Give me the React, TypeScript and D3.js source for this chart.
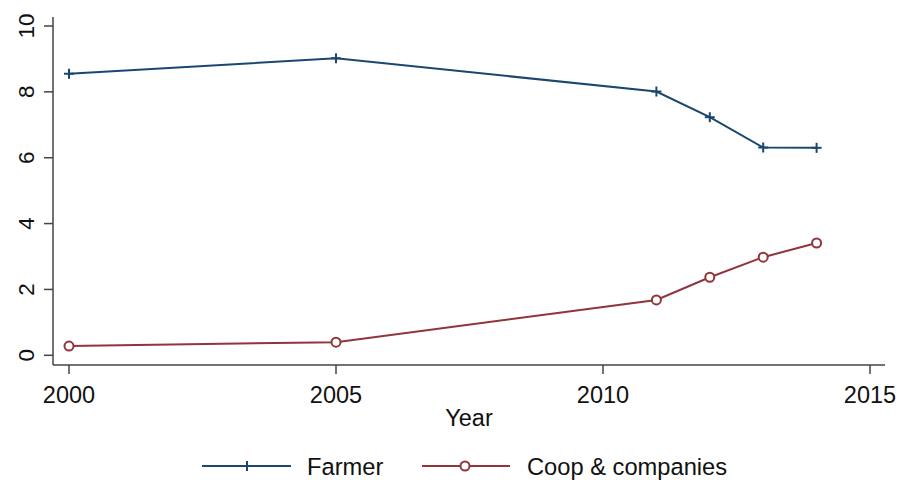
import React from 'react';
import * as d3 from 'd3';

const years = [2000, 2005, 2011, 2012, 2013, 2014];
const farmer = [8.55, 9.02, 8.01, 7.23, 6.31, 6.30];
const coop = [0.28, 0.40, 1.68, 2.37, 2.98, 3.41];
const xTicks = [2000, 2005, 2010, 2015];
const yTicks = [0, 2, 4, 6, 8, 10];

const W = 899;
const H = 480;
const FONT = 'Liberation Sans, Arial, Helvetica, sans-serif';
const BLUE = '#1a476f';
const RED = '#90353b';
const AXIS = '#444';

const App: React.FC = () => {
  const x = d3.scaleLinear().domain([2000, 2015]).range([69, 870]);
  const y = d3.scaleLinear().domain([0, 10]).range([355.3, 26]);

  const line = d3
    .line<[number, number]>()
    .x((d) => x(d[0]))
    .y((d) => y(d[1]));

  const farmerPts = years.map((yr, i) => [yr, farmer[i]] as [number, number]);
  const coopPts = years.map((yr, i) => [yr, coop[i]] as [number, number]);

  const axisLeft = 53;
  const axisBottom = 365;
  const axisRight = 885;
  const axisTop = 17;

  const plus = (cx: number, cy: number, key: string) => (
    <g key={key} stroke={BLUE} strokeWidth={2}>
      <line x1={cx - 5} x2={cx + 5} y1={cy} y2={cy} />
      <line x1={cx} x2={cx} y1={cy - 5} y2={cy + 5} />
    </g>
  );

  const circle = (cx: number, cy: number, key: string) => (
    <circle key={key} cx={cx} cy={cy} r={4.5} fill="white" stroke={RED} strokeWidth={2} />
  );

  return (
    <svg
      width={W}
      height={H}
      style={{ position: 'absolute', left: 0, top: 0, background: 'white' }}
      fontFamily={FONT}
    >
      {/* axes */}
      <line x1={axisLeft} x2={axisLeft} y1={axisTop} y2={axisBottom} stroke={AXIS} strokeWidth={1.5} />
      <line x1={axisLeft} x2={axisRight} y1={axisBottom} y2={axisBottom} stroke={AXIS} strokeWidth={1.5} />

      {yTicks.map((t) => (
        <g key={`y${t}`}>
          <line x1={axisLeft - 9} x2={axisLeft} y1={y(t)} y2={y(t)} stroke={AXIS} strokeWidth={1.5} />
          <text
            transform={`translate(33.5,${y(t)}) rotate(-90)`}
            textAnchor="middle"
            fontSize={22.5}
            fill="#111"
          >
            {t}
          </text>
        </g>
      ))}

      {xTicks.map((t) => (
        <g key={`x${t}`}>
          <line x1={x(t)} x2={x(t)} y1={axisBottom} y2={axisBottom + 9} stroke={AXIS} strokeWidth={1.5} />
          <text x={x(t)} y={403} textAnchor="middle" fontSize={23.5} fill="#111">
            {t}
          </text>
        </g>
      ))}

      <text x={469} y={426} textAnchor="middle" fontSize={23.5} fill="#111">
        Year
      </text>

      {/* series */}
      <path d={line(farmerPts) || ''} fill="none" stroke={BLUE} strokeWidth={2} />
      <path d={line(coopPts) || ''} fill="none" stroke={RED} strokeWidth={2} />
      {farmerPts.map((p, i) => plus(x(p[0]), y(p[1]), `f${i}`))}
      {coopPts.map((p, i) => circle(x(p[0]), y(p[1]), `c${i}`))}

      {/* legend */}
      <line x1={202} x2={291} y1={466} y2={466} stroke={BLUE} strokeWidth={2} />
      {plus(247, 466, 'lf')}
      <text x={307} y={475} fontSize={23.7} fill="#111">Farmer</text>
      <line x1={422} x2={510} y1={466} y2={466} stroke={RED} strokeWidth={2} />
      {circle(465, 466, 'lc')}
      <text x={527} y={475} fontSize={23.7} fill="#111">Coop &amp; companies</text>
    </svg>
  );
};

export default App;
